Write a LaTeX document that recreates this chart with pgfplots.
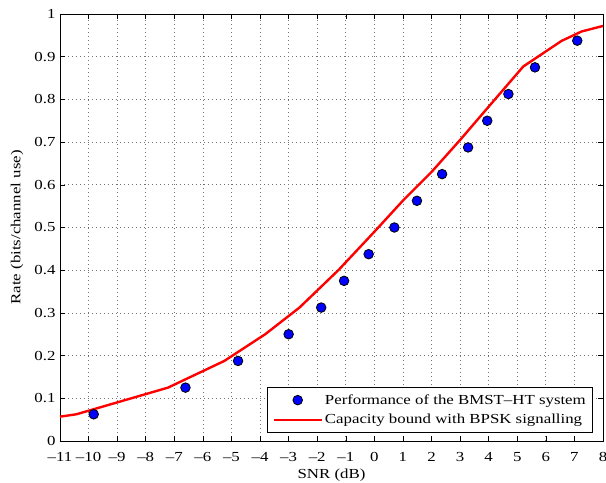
\documentclass[border=0pt]{standalone}
\usepackage{fontspec}
\setmainfont{Liberation Serif}[FakeStretch=1.22]
\usepackage{pgfplots}
\pgfplotsset{compat=1.18}
\usetikzlibrary{calc}
\pgfplotsset{
  legscatter/.style={legend image code/.code={\draw[mark repeat=2,mark phase=2,##1] plot coordinates {(0pt,0pt) (24pt,0pt) (48pt,0pt)};}},
  legline/.style={legend image code/.code={\draw[##1] (0pt,0pt) -- (48pt,0pt);}},
}
\begin{document}
\begin{tikzpicture}[font=\fontsize{13.8}{16}\selectfont]
\begin{axis}[
  name=ax,
  scale only axis,
  width=543pt, height=427pt,
  xmin=-11, xmax=8, ymin=0, ymax=1,
  xtick={-11,-10,...,8},
  xticklabels={\textendash11,\textendash10,\textendash9,\textendash8,\textendash7,\textendash6,\textendash5,\textendash4,\textendash3,\textendash2,\textendash1,0,1,2,3,4,5,6,7,8},
  ytick={0,0.1,...,1.0},
  yticklabels={0,0.1,0.2,0.3,0.4,0.5,0.6,0.7,0.8,0.9,1},
  tick align=inside,
  tick pos=both,
  major tick length=5pt,
  tick style={black, line width=0.5pt},
  grid=major,
  grid style={black!55, line width=0.7pt, dash pattern=on 0.7pt off 3.3pt},
  axis line style={black, line width=0.8pt},
  every tick label/.append style={font=\fontsize{13.8}{16}\selectfont},
  label style={font=\fontsize{13.8}{16}\selectfont},
  xlabel={SNR (dB)},
  ylabel={Rate (bits/channel use)},
  xlabel style={at={(axis description cs:0.5,-0.0796)}, anchor=center},
  ylabel style={at={(axis description cs:-0.079,0.5)}, anchor=center},
  xticklabel style={anchor=base, yshift=-21pt},
  yticklabel style={anchor=east, xshift=-1pt},
  legend style={at={(0.982,0.0194)}, anchor=south east, draw=black, line width=0.8pt, font=\fontsize{13.8}{16}\selectfont, inner xsep=5pt, inner ysep=5pt, row sep=4.5pt},
  legend cell align=left,
]
\addplot[only marks, mark=*, mark size=4.8pt, mark options={fill=blue, draw=black, line width=0.8pt}, legscatter] coordinates {
(-9.82,0.0625) (-6.61,0.125) (-4.77,0.1875) (-3.0,0.25) (-1.86,0.3125) (-1.06,0.375) (-0.2,0.4375) (0.70,0.5) (1.49,0.5625) (2.37,0.625) (3.28,0.6875) (3.95,0.75) (4.69,0.8125) (5.62,0.875) (7.10,0.9375)
};
\addlegendentry{Performance of the BMST\textendash HT system}
\addplot[red, line width=2.4pt, mark=none, line join=round, legline] coordinates {
(-11,0.057) (-10.43,0.0625) (-7.22,0.125) (-5.25,0.1875) (-3.82,0.25) (-2.62,0.3125) (-1.26,0.400) (0,0.490) (1,0.563) (2,0.630) (3,0.705) (4,0.783) (5.21,0.877) (6.55,0.937) (7.25,0.959) (8,0.972)
};
\addlegendentry{Capacity bound with BPSK signalling}
\end{axis}
\pgfresetboundingbox
\useasboundingbox ($(ax.south west)+(-60pt,-42pt)$) rectangle ($(ax.north east)+(3pt,14pt)$);
\end{tikzpicture}
\end{document}
